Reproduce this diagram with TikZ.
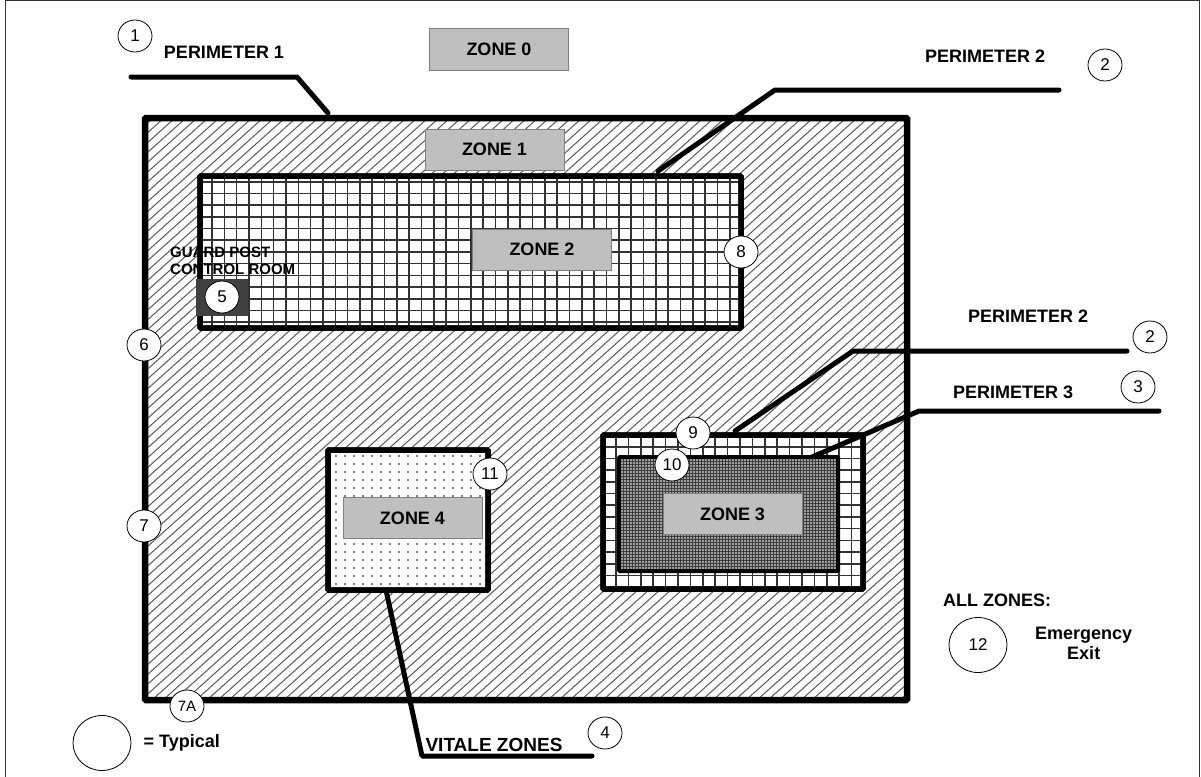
\documentclass[tikz,border=0pt]{standalone}
\usepackage{fontspec}
\setmainfont{Liberation Sans}
\usetikzlibrary{positioning, shapes.geometric}
\definecolor{zonegray}{HTML}{BFBFBF}
\definecolor{darkfill}{HTML}{404040}
\tikzset{
    fence/.style={draw=black, line width=5.5pt, inner sep=0pt, outer sep=0pt, rounded corners=1pt, fill=white},
    openfence/.style={fence, fill=none},
    zonebox/.style={draw=gray, fill=zonegray, line width=1pt, minimum width=139pt, minimum height=41pt,
        inner sep=0pt, font=\fontsize{18}{20}\selectfont\bfseries},
    tag/.style={ellipse, draw=black, fill=white, line width=0.8pt, minimum width=34pt, minimum height=32pt, inner sep=0pt,
        font=\fontsize{17}{19}\selectfont},
    bigtag/.style={tag, minimum width=58pt, minimum height=55pt},
    caption/.style={font=\fontsize{18}{20}\selectfont\bfseries, align=center, inner sep=0pt},
    leader/.style={line width=5pt, line cap=round, line join=round},
    gridline/.style={draw=black!80, line width=1.6pt},
    hatchline/.style={draw=black!65, line width=1pt},
}
\begin{document}
\begin{tikzpicture}[x=1pt, y=-1pt]
    \useasboundingbox (0,0) rectangle (1201,776);
    \draw[line width=1pt, draw=black!80] (5.5,780) -- (5.5,0.5) -- (1199.5,0.5) -- (1199.5,780);
    % hatched ground
    \begin{scope}
        \clip (145,118) rectangle (907,700);
        \foreach \c in {-530,-519,...,907}
            \draw[hatchline] (\c,700) -- +(650,-582);
    \end{scope}
    \node[openfence, line width=6.5pt, minimum width=762pt, minimum height=582pt] (perimone) at (526,409) {};
    % perimeter 2, top
    \node[fence, minimum width=541pt, minimum height=152pt] (permtwo) at (470.5,252) {};
    \begin{scope}
        \clip (200,176) rectangle (742,328);
        \foreach \x in {212,224.33,...,742}
            \draw[gridline] (\x,176) -- (\x,328);
        \foreach \y in {181.7,193.4,...,328}
            \draw[gridline] (200,\y) -- (742,\y);
    \end{scope}
    \node[openfence, minimum width=541pt, minimum height=152pt] (permtwob) at (470.5,252) {};
    \node[draw=none, fill=darkfill, minimum width=52pt, minimum height=37pt, inner sep=0pt] (guardroom) at (222,297.5) {};
    % zone 4
    \node[fence, minimum width=160pt, minimum height=140pt] (vitalbox) at (408,520) {};
    \fill[black] \foreach \x in {336,345,...,484} {\foreach \y in {456,464,...,588} {(\x,\y) circle (0.8)}};
    \node[openfence, minimum width=160pt, minimum height=140pt] (vitalboxb) at (408,520) {};
    % perimeter 2 and 3, bottom right
    \node[fence, minimum width=260pt, minimum height=154pt] (permthree) at (733,512) {};
    \begin{scope}
        \clip (603,435) rectangle (863,589);
        \foreach \x in {616,628.4,...,863}
            \draw[gridline] (\x,435) -- (\x,589);
        \foreach \y in {446.7,458.4,...,589}
            \draw[gridline] (603,\y) -- (863,\y);
    \end{scope}
    \node[openfence, minimum width=260pt, minimum height=154pt] (permthreeb) at (733,512) {};
    \node[fence, fill=darkfill, line width=4pt, minimum width=219pt, minimum height=114pt] (corebox) at (728.5,514) {};
    \fill[white] \foreach \x in {622,625,...,836} {\foreach \y in {460,463,...,569} {(\x,\y) circle (0.85)}};
    \node[zonebox] (zonezero) at (499,49.5) {ZONE 0};
    \node[zonebox] (zoneone) at (494.5,149.5) {ZONE 1};
    \node[zonebox] (zonetwo) at (542,249.5) {ZONE 2};
    \node[zonebox] (zonethree) at (732.5,514) {ZONE 3};
    \node[zonebox] (zonefour) at (412.5,518) {ZONE 4};
    % leaders
    \coordinate (leadaa) at (131,77);
    \coordinate (leadab) at (297,77);
    \coordinate (leadac) at (328,113);
    \coordinate (leadba) at (1059,90);
    \coordinate (leadbb) at (775,90);
    \coordinate (leadbc) at (658,171);
    \coordinate (leadca) at (1127,351);
    \coordinate (leadcb) at (853,351);
    \coordinate (leadcc) at (735,431);
    \coordinate (leadda) at (1159,411);
    \coordinate (leaddb) at (919,411);
    \coordinate (leaddc) at (812,457);
    \coordinate (leadea) at (386,590);
    \coordinate (leadeb) at (422,756);
    \coordinate (leadec) at (592,756);
    \draw[leader] (leadaa) -- (leadab) -- (leadac);
    \draw[leader] (leadba) -- (leadbb) -- (leadbc);
    \draw[leader] (leadca) -- (leadcb) -- (leadcc);
    \draw[leader] (leadda) -- (leaddb) -- (leaddc);
    \draw[leader] (leadea) -- (leadeb) -- (leadec);
    % labels
    \node[caption] (labelone) at (224,52) {PERIMETER 1};
    \node[caption] (labeltwo) at (985,56) {PERIMETER 2};
    \node[caption] (labelthree) at (1028,316) {PERIMETER 2};
    \node[caption] (labelfour) at (1013,392) {PERIMETER 3};
    \node[caption, font=\fontsize{19}{21}\selectfont\bfseries] (labelfive) at (494,745) {VITALE ZONES};
    \node[caption, font=\fontsize{15}{17}\selectfont\bfseries, align=left, anchor=north west] (labelguard) at (170,247) {GUARD POST\\CONTROL ROOM};
    \node[caption, anchor=west] (labelall) at (943,600) {ALL ZONES:};
    % numbered tags
    \node[tag] (tagone) at (135,36) {1};
    \node[tag] (tagtwo) at (1105,65) {2};
    \node[tag] (tagthree) at (1150,337) {2};
    \node[tag] (tagfour) at (1138,387) {3};
    \node[tag] (tagfive) at (605,733) {4};
    \node[tag] (tagsix) at (222,297) {5};
    \node[tag] (tagseven) at (144,345) {6};
    \node[tag] (tageight) at (144,526) {7};
    \node[tag, font=\fontsize{15}{17}\selectfont] (tagnine) at (187,706) {7A};
    \node[tag] (tagten) at (741,252) {8};
    \node[tag] (tageleven) at (693,433) {9};
    \node[tag] (tagtwelve) at (672,465) {10};
    \node[tag] (tagthirteen) at (490,474) {11};
    \node[bigtag] (tagexit) at (978,645) {12};
    \node[caption, right=57pt of tagexit.center, anchor=west, yshift=2pt] (labelexit) {Emergency\\Exit};
    \node[bigtag] (tagtypical) at (102,743) {};
    \node[caption, right=12pt of tagtypical] (labeltypical) {= Typical};
\end{tikzpicture}
\end{document}
